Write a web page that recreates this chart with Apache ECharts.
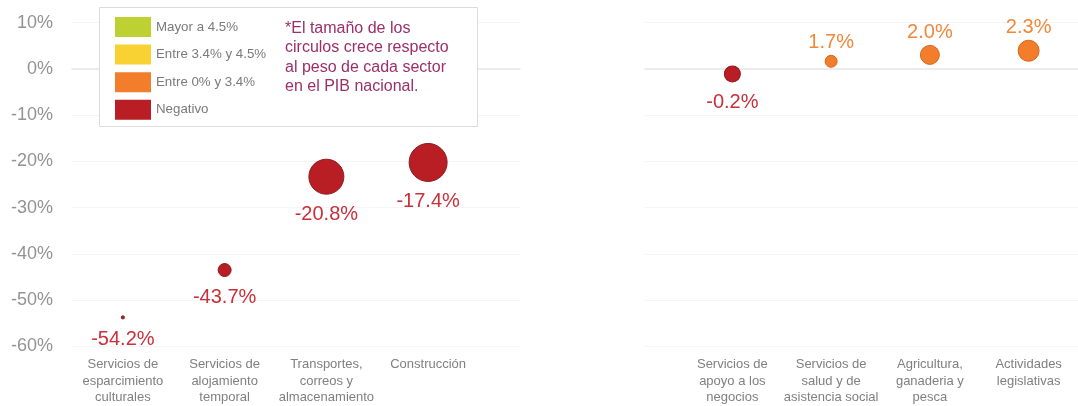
<!DOCTYPE html>
<html>
<head>
<meta charset="utf-8">
<script src="https://cdn.jsdelivr.net/npm/echarts@6/dist/echarts.min.js"></script>
<style>
  html, body { margin: 0; padding: 0; background: #fff; }
  #chart { width: 1078px; height: 406px; }
</style>
</head>
<body>
<div id="chart"></div>
<script>
// categorias de cada panel
const catsLeft = ['Servicios de\nesparcimiento\nculturales', 'Servicios de\nalojamiento\ntemporal', 'Transportes,\ncorreos y\nalmacenamiento', 'Construcción'];
const catsRight = ['Servicios de\napoyo a los\nnegocios', 'Servicios de\nsalud y de\nasistencia social', 'Agricultura,\nganaderia y\npesca', 'Actividades\nlegislativas'];

// variacion anual (etiqueta)
const growthLeft = [-54.2, -43.7, -20.8, -17.4];
const growthRight = [-0.2, 1.7, 2.0, 2.3];

// altura del circulo tal como aparece en la grafica
const heightLeft = [-54.1, -43.8, -23.5, -20.4];
const heightRight = [-1.15, 1.6, 3.0, 3.9];

// peso en el PIB nacional (tamano del circulo)
const pibLeft = [0.05, 0.86, 6.25, 7.37];
const pibRight = [1.31, 0.73, 1.84, 2.25];

const yTicks = [-60, -50, -40, -30, -20, -10, 0, 10];

const classes = [
    { name: 'Mayor a 4.5%', color: '#bdd232', border: '#9fb322', label: '#9fb322', test: v => v > 4.5 },
    { name: 'Entre 3.4% y 4.5%', color: '#f8d133', border: '#dcb31c', label: '#dcb31c', test: v => v > 3.4 && v <= 4.5 },
    { name: 'Entre 0% y 3.4%', color: '#f27e2b', border: '#d5661a', label: '#f0883a', test: v => v >= 0 && v <= 3.4 },
    { name: 'Negativo', color: '#b81e24', border: '#8c1a1e', label: '#c8303a', test: v => v < 0 }
];

const font = '"Liberation Sans", Arial, sans-serif';
const gridTop = 22.7, gridH = 323.6;

function yAxis(gridIndex, labels, split) {
    return {
        type: 'value', gridIndex, min: yTicks[0], max: yTicks[yTicks.length - 1], interval: 10,
        axisLine: { show: 0 }, axisTick: { show: 0 },
        axisLabel: { show: labels, formatter: '{value}%', color: '#939393', fontSize: 18, margin: 19, fontFamily: font },
        splitLine: { show: split, lineStyle: { color: '#f5f5f5', width: 1 } }
    };
}

function lineAxis(gridIndex) {
    return {
        type: 'value', gridIndex, min: 0, max: 1,
        axisLine: { show: 1, onZero: 1, lineStyle: { color: '#e6e6e6', width: 1.5 } },
        axisTick: { show: 0 }, axisLabel: { show: 0 }, splitLine: { show: 0 }
    };
}

function catAxis(gridIndex, cats) {
    return {
        type: 'category', gridIndex, data: cats,
        axisLine: { show: 0 }, axisTick: { show: 0 }, splitLine: { show: 0 },
        axisLabel: { interval: 0, color: '#808080', fontSize: 13, lineHeight: 16.5, margin: 12, fontFamily: font }
    };
}

function buildSeries(axisIndex, growth, heights, pib) {
    return classes.map(c => {
        const neg = c.name === 'Negativo';
        return {
            type: 'scatter', name: c.name,
            xAxisIndex: axisIndex, yAxisIndex: axisIndex,
            data: growth.map((g, i) => c.test(g) ? { value: [i, heights[i], pib[i], g] } : null).filter(d => d),
            symbolSize: val => 14 * Math.sqrt(val[2]),
            itemStyle: { color: c.color, borderColor: c.border, borderWidth: 1, opacity: 1 },
            label: {
                show: 1, position: neg ? 'bottom' : 'top', distance: neg ? 10 : 2,
                formatter: p => p.value[3].toFixed(1) + '%',
                color: c.label, fontSize: 20, fontFamily: font
            },
            emphasis: { disabled: 1 }
        };
    });
}

const chart = echarts.init(document.getElementById('chart'));
chart.setOption({
    animation: false,
    textStyle: { fontFamily: font },
    grid: [
        { left: 72, top: gridTop, width: 448, height: gridH },
        { left: 645, top: gridTop, width: 433, height: gridH },
        { left: 72, top: gridTop, width: 407, height: gridH },
        { left: 683, top: gridTop, width: 404, height: gridH }
    ],
    xAxis: [lineAxis(0), lineAxis(1), catAxis(2, catsLeft), catAxis(3, catsRight)],
    yAxis: [yAxis(0, 1, 1), yAxis(1, 0, 1), yAxis(2, 0, 0), yAxis(3, 0, 0)],
    legend: {
        orient: 'vertical', left: 110, top: 12,
        icon: 'rect', itemWidth: 36, itemHeight: 20, itemGap: 7.6,
        selectedMode: false,
        data: classes.map(c => c.name),
        itemStyle: { borderWidth: 0 },
        textStyle: { color: '#7a7a7a', fontSize: 13.3, fontFamily: font }
    },
    graphic: [
        {
            type: 'rect', z: 1, silent: true,
            shape: { x: 99.5, y: 7.5, width: 378, height: 119 },
            style: { fill: '#fff', stroke: '#dcdcdc', lineWidth: 1 }
        },
        {
            type: 'text', z: 5, silent: true, x: 285, y: 18.5,
            style: {
                text: '*El tamaño de los\ncirculos crece respecto\nal peso de cada sector\nen el PIB nacional.',
                fill: '#9b2f6b', fontSize: 16, lineHeight: 19.5, fontFamily: font,
                verticalAlign: 'top'
            }
        }
    ],
    series: [
        ...buildSeries(2, growthLeft, heightLeft, pibLeft),
        ...buildSeries(3, growthRight, heightRight, pibRight)
    ]
});
</script>
</body>
</html>
